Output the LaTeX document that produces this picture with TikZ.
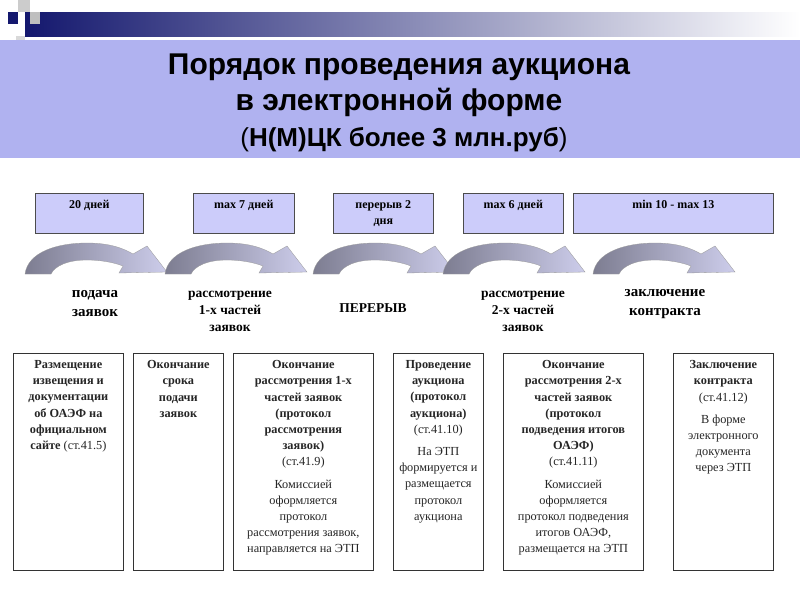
\documentclass[tikz,border=0pt]{standalone}
\usepackage{fontspec}
\setmainfont{Liberation Serif}
\newfontfamily\hsans{Liberation Sans}
\begin{document}
\begin{tikzpicture}[x=1pt,y=-1pt,
  topbox/.style={draw=black!70,fill=lav,line width=0.6pt,minimum height=40pt,anchor=north west,inner sep=0pt},
  botbox/.style={draw=black!80,line width=0.7pt,anchor=north west,minimum height=217pt,inner sep=0pt},
  toptext/.style={font=\fontsize{12}{16}\selectfont\bfseries,align=center,anchor=north},
  bottext/.style={font=\fontsize{12.3}{16.2}\selectfont,align=center,anchor=north,text=black!85},
  lab/.style={font=\fontsize{15}{19}\selectfont\bfseries,align=center},
  labs/.style={font=\fontsize{13.5}{17}\selectfont\bfseries,align=center}]
\definecolor{lav}{RGB}{204,204,250}
\definecolor{band}{RGB}{176,178,240}
\definecolor{navy}{RGB}{20,24,110}
\definecolor{agray}{RGB}{125,125,145}
\definecolor{alight}{RGB}{205,205,235}
\useasboundingbox (0,0) rectangle (800,600);
\fill[white] (0,0) rectangle (800,600);
% header decoration
\shade[left color=navy,right color=white] (25,12) rectangle (800,36);
\fill[navy] (8,12) rectangle (18,24);
\fill[black!20] (18,0) rectangle (30,12);
\fill[black!25] (30,12) rectangle (40,24);
\fill[black!15] (16,36) rectangle (25,42);
% title band
\fill[band] (0,40) rectangle (800,158);
\node[font=\hsans\bfseries\fontsize{30}{34}\selectfont] (t1) at (399,67) {Порядок проведения аукциона};
\node[font=\hsans\bfseries\fontsize{30}{34}\selectfont] (t2) at (399,102) {в электронной форме};
\node[font=\hsans\fontsize{26}{30}\selectfont] (t3) at (404,140) {(\textbf{Н(М)ЦК более 3 млн.руб})};
% top boxes
\node[topbox,minimum width=108pt] (b1) at (35,193) {};
\node[topbox,minimum width=101pt] (b2) at (193,193) {};
\node[topbox,minimum width=100pt] (b3) at (333,193) {};
\node[topbox,minimum width=100pt] (b4) at (463,193) {};
\node[topbox,minimum width=200pt] (b5) at (573,193) {};
\node[toptext] (bt1) at ([yshift=-4pt]b1.north) {20 дней};
\node[toptext] (bt2) at ([yshift=-4pt]b2.north) {max 7 дней};
\node[toptext] (bt3) at ([yshift=-4pt]b3.north) {перерыв 2\\дня};
\node[toptext] (bt4) at ([yshift=-4pt]b4.north) {max 6 дней};
\node[toptext] (bt5) at ([yshift=-4pt]b5.north) {min 10 - max 13};
% curved arrows
\foreach \x in {25,165,313,443,593}{
  \begin{scope}[shift={(\x,0)}]
  \shade[left color=agray,right color=alight,draw=black!40,line width=0.3pt]
    (0,274) .. controls (3,252) and (32,243) .. (62,243)
    .. controls (84,243) and (98,248) .. (108,254)
    -- (122,246) -- (142,272) -- (94,273) -- (98,266)
    .. controls (88,262) and (74,260) .. (62,260)
    .. controls (42,260) and (30,266) .. (26,274) -- cycle;
  \end{scope}}
% labels under arrows
\node[lab] (l1) at (95,304) {подача\\заявок};
\node[labs] (l2) at (230,311) {рассмотрение\\1-х частей\\заявок};
\node[labs] (l3) at (373,308) {ПЕРЕРЫВ};
\node[labs] (l4) at (523,311) {рассмотрение\\2-х частей\\заявок};
\node[lab] (l5) at (665,304) {заключение\\контракта};
% bottom boxes
\node[botbox,minimum width=110pt] (c1) at (13,353) {};
\node[botbox,minimum width=90pt] (c2) at (133,353) {};
\node[botbox,minimum width=140pt] (c3) at (233,353) {};
\node[botbox,minimum width=90pt] (c4) at (393,353) {};
\node[botbox,minimum width=140pt] (c5) at (503,353) {};
\node[botbox,minimum width=100pt] (c6) at (673,353) {};
\node[bottext] (d1) at ([yshift=-4pt]c1.north) {\textbf{Размещение}\\\textbf{извещения и}\\\textbf{документации}\\\textbf{об ОАЭФ на}\\\textbf{официальном}\\\textbf{сайте} (ст.41.5)};
\node[bottext] (d2) at ([yshift=-4pt]c2.north) {\textbf{Окончание}\\\textbf{срока}\\\textbf{подачи}\\\textbf{заявок}};
\node[bottext] (d3) at ([yshift=-4pt]c3.north) {\textbf{Окончание}\\\textbf{рассмотрения 1-х}\\\textbf{частей заявок}\\\textbf{(протокол}\\\textbf{рассмотрения}\\\textbf{заявок)}\\(ст.41.9)\\[6pt]Комиссией\\оформляется\\протокол\\рассмотрения заявок,\\направляется на ЭТП};
\node[bottext] (d4) at ([yshift=-4pt]c4.north) {\textbf{Проведение}\\\textbf{аукциона}\\\textbf{(протокол}\\\textbf{аукциона)}\\(ст.41.10)\\[6pt]На ЭТП\\формируется и\\размещается\\протокол\\аукциона};
\node[bottext] (d5) at ([yshift=-4pt]c5.north) {\textbf{Окончание}\\\textbf{рассмотрения 2-х}\\\textbf{частей заявок}\\\textbf{(протокол}\\\textbf{подведения итогов}\\\textbf{ОАЭФ)}\\(ст.41.11)\\[6pt]Комиссией\\оформляется\\протокол подведения\\итогов ОАЭФ,\\размещается на ЭТП};
\node[bottext] (d6) at ([yshift=-4pt]c6.north) {\textbf{Заключение}\\\textbf{контракта}\\(ст.41.12)\\[6pt]В форме\\электронного\\документа\\через ЭТП};
\end{tikzpicture}
\end{document}
